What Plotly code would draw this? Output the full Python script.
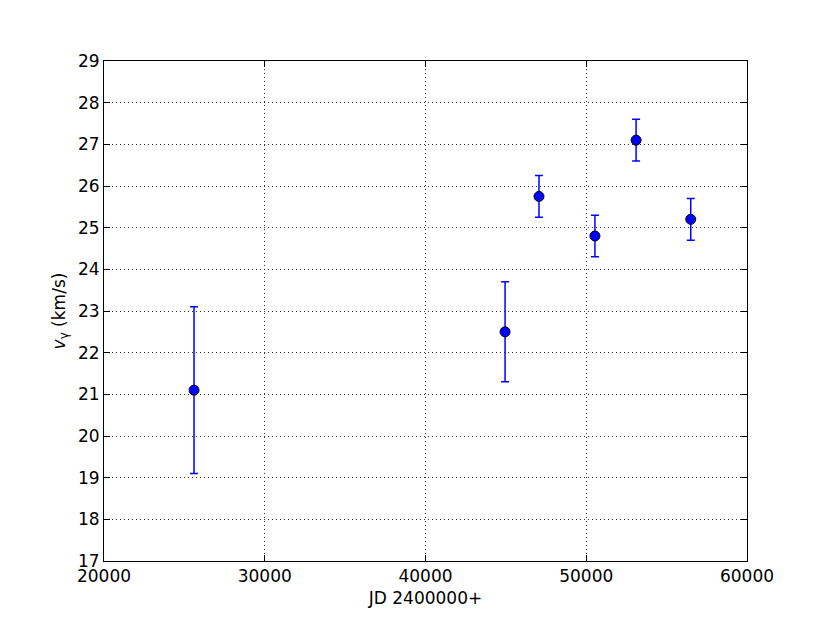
import plotly.graph_objects as go

jd = [25600, 44950, 47060, 50540, 53100, 56500]
v_gamma = [21.1, 22.5, 25.75, 24.8, 27.1, 25.2]
v_err = [2.0, 1.2, 0.5, 0.5, 0.5, 0.5]

x_ticks = [20000, 30000, 40000, 50000, 60000]
y_ticks = list(range(17, 30))

fig = go.Figure()
fig.add_trace(go.Scatter(
    x=jd, y=v_gamma, mode="markers",
    error_y=dict(type="data", array=v_err, color="blue", thickness=1.5, width=4),
    marker=dict(color="blue", size=10, line=dict(color="black", width=1)),
    showlegend=False,
))

axis_common = dict(
    showline=True, linecolor="black", linewidth=1, mirror="allticks",
    ticks="inside", ticklen=6, tickcolor="black",
    showgrid=True, gridcolor="#333333", griddash="1px,3px", gridwidth=1,
    zeroline=False, tickfont=dict(family="DejaVu Sans", size=17, color="black"),
)

fig.update_xaxes(range=[20000, 60000], tickvals=x_ticks, ticktext=[str(t) for t in x_ticks],
                 title=dict(text="JD 2400000+", font=dict(family="DejaVu Sans", size=17, color="black"), standoff=6),
                 **axis_common)
fig.update_yaxes(range=[17, 29], tickvals=y_ticks, ticktext=[str(t) for t in y_ticks],
                 title=dict(text="<i>v</i><sub>γ</sub> (km/s)", font=dict(family="DejaVu Sans", size=17, color="black"), standoff=8),
                 **axis_common)

fig.update_layout(
    width=830, height=623,
    margin=dict(l=96, r=91, t=53, b=70, autoexpand=False),
    plot_bgcolor="white", paper_bgcolor="white",
)

fig.write_html("out.html")
